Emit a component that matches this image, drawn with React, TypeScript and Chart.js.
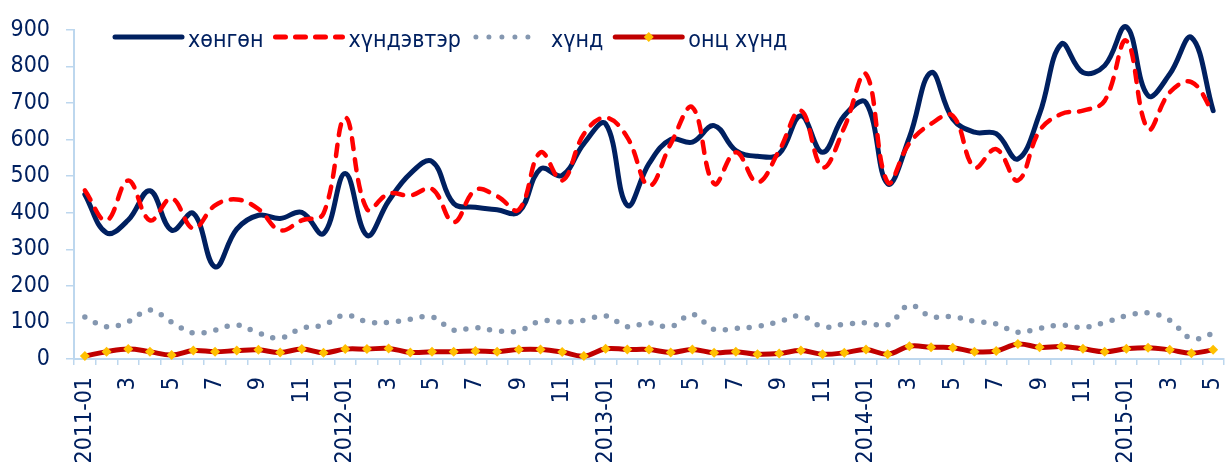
import React, { useEffect, useRef } from "react";
import { Chart, registerables } from "chart.js";

Chart.register(...registerables);

const categories: string[] = [
  "2011-01", "2", "3", "4", "5", "6", "7", "8", "9", "10", "11", "12",
  "2012-01", "2", "3", "4", "5", "6", "7", "8", "9", "10", "11", "12",
  "2013-01", "2", "3", "4", "5", "6", "7", "8", "9", "10", "11", "12",
  "2014-01", "2", "3", "4", "5", "6", "7", "8", "9", "10", "11", "12",
  "2015-01", "2", "3", "4", "5",
];

const seriesNames: string[] = ["хөнгөн", "хүндэвтэр", "хүнд", "онц хүнд"];

const light: number[] = [
  450, 345, 380, 460, 352, 398, 252, 355, 393, 384, 401, 343,
  507, 338, 432, 507, 540, 425, 415, 408, 402, 520, 502, 589,
  643, 420, 534, 600, 593, 638, 570, 554, 561, 665, 565, 665,
  701, 479, 606, 783, 656, 620, 616, 547, 670, 861, 783, 802,
  908, 720, 779, 879, 679,
];

const moderate: number[] = [
  461, 379, 488, 379, 439, 357, 420, 436, 410, 352, 379, 398,
  660, 410, 452, 447, 465, 374, 462, 445, 408, 565, 488, 615,
  660, 606, 474, 588, 688, 479, 565, 483, 570, 679, 524, 633,
  779, 483, 590, 643, 665, 524, 574, 488, 624, 670, 679, 706,
  870, 629, 729, 757, 674,
];

const severe: number[] = [
  115, 88, 102, 134, 101, 71, 79, 93, 71, 57, 84, 93,
  120, 102, 100, 109, 115, 79, 86, 77, 77, 104, 101, 106,
  118, 88, 99, 88, 122, 81, 84, 89, 102, 118, 88, 95,
  99, 93, 147, 116, 116, 103, 96, 73, 84, 93, 86, 100,
  118, 126, 106, 56, 70,
];

const extreme: number[] = [
  8, 20, 27, 20, 11, 23, 20, 23, 25, 18, 27, 17,
  27, 27, 29, 18, 20, 20, 22, 20, 26, 26, 19, 8,
  28, 26, 26, 18, 26, 17, 20, 13, 15, 23, 13, 17,
  26, 13, 35, 32, 31, 20, 22, 41, 32, 34, 28, 20,
  28, 31, 25, 16, 25,
];

const NAVY = "#002060";
const RED = "#FF0000";
const GRAY = "#8497B0";
const DARKRED = "#C00000";
const YELLOW = "#FFC000";
const AXIS = "#BDD7EE";
const FONT = '"DejaVu Sans Condensed", "DejaVu Sans", sans-serif';

const legendPlugin = {
  id: "customLegend",
  afterDraw(chart: any) {
    const ctx = chart.ctx as CanvasRenderingContext2D;
    ctx.save();
    ctx.font = `23px ${FONT}`;
    ctx.textBaseline = "alphabetic";
    const lineY = 37;
    const textY = 47;
    let x = 115;
    const lineLen = 67;
    const styles = [
      { color: NAVY, width: 5, dash: [] as number[], marker: false },
      { color: RED, width: 5, dash: [10, 10], marker: false },
      { color: GRAY, width: 5, dash: [0, 13], marker: false },
      { color: DARKRED, width: 5, dash: [] as number[], marker: true },
    ];
    seriesNames.forEach((name, i) => {
      const s = styles[i];
      ctx.beginPath();
      ctx.strokeStyle = s.color;
      ctx.lineWidth = s.width;
      ctx.lineCap = "round";
      ctx.setLineDash(s.dash);
      const x0 = i === 2 ? x + 3 : x;
      ctx.moveTo(x0, lineY);
      ctx.lineTo(x + lineLen, lineY);
      ctx.stroke();
      ctx.setLineDash([]);
      if (s.marker) {
        const cx = x + lineLen / 2;
        ctx.beginPath();
        ctx.fillStyle = YELLOW;
        ctx.moveTo(cx, lineY - 5);
        ctx.lineTo(cx + 5, lineY);
        ctx.lineTo(cx, lineY + 5);
        ctx.lineTo(cx - 5, lineY);
        ctx.closePath();
        ctx.fill();
      }
      const tx = x + lineLen + (i === 2 ? 11 : 6);
      ctx.fillStyle = NAVY;
      ctx.fillText(name, tx, textY);
      const w = ctx.measureText(name).width;
      x = tx + w + 12;
    });
    ctx.restore();
  },
};

export default function App() {
  const ref = useRef<HTMLCanvasElement | null>(null);

  useEffect(() => {
    if (!ref.current) return;
    const chart = new Chart(ref.current, {
      type: "line",
      data: {
        labels: categories,
        datasets: [
          {
            label: seriesNames[0],
            data: light,
            borderColor: NAVY,
            borderWidth: 5,
            pointRadius: 0,
            tension: 0.4,
            borderCapStyle: "round",
            borderJoinStyle: "round",
            clip: false,
            order: 4,
          },
          {
            label: seriesNames[1],
            data: moderate,
            borderColor: RED,
            borderWidth: 4.5,
            borderDash: [11, 10],
            borderCapStyle: "round",
            pointRadius: 0,
            tension: 0.4,
            clip: false,
            order: 3,
          },
          {
            label: seriesNames[2],
            data: severe,
            borderColor: GRAY,
            borderWidth: 5.5,
            borderDash: [0, 12],
            borderCapStyle: "round",
            pointRadius: 0,
            tension: 0.4,
            order: 2,
          },
          {
            label: seriesNames[3],
            data: extreme,
            borderColor: DARKRED,
            borderWidth: 5,
            pointRadius: 5,
            pointStyle: "rectRot",
            pointBackgroundColor: YELLOW,
            pointBorderColor: YELLOW,
            pointBorderWidth: 0,
            tension: 0.4,
            clip: false,
            order: 1,
          },
        ],
      },
      options: {
        responsive: false,
        animation: false,
        layout: { padding: { top: 29, left: 0, right: 0, bottom: 0 } },
        plugins: {
          legend: { display: false },
          tooltip: { enabled: false },
        },
        scales: {
          x: {
            type: "category",
            offset: true,
            afterFit: (scale: any) => {
              scale.height = 110;
              scale.paddingRight = 0;
              scale.paddingLeft = 0;
            },
            grid: {
              display: true,
              drawOnChartArea: false,
              drawTicks: true,
              tickLength: 6,
              color: AXIS,
              lineWidth: 1.5,
              offset: true,
            },
            border: { display: true, color: AXIS, width: 2 },
            ticks: {
              autoSkip: false,
              minRotation: 90,
              maxRotation: 90,
              padding: 12,
              color: NAVY,
              font: { family: FONT, size: 23 },
              callback: (_v: any, i: number) => (i % 2 === 0 ? categories[i] : ""),
            },
          },
          y: {
            min: 0,
            max: 900,
            afterFit: (scale: any) => {
              scale.width = 74;
            },
            grid: {
              display: true,
              drawOnChartArea: false,
              drawTicks: true,
              tickLength: 8,
              color: AXIS,
              lineWidth: 1.5,
            },
            border: { display: true, color: AXIS, width: 2 },
            ticks: {
              stepSize: 100,
              padding: 16,
              color: NAVY,
              font: { family: FONT, size: 23 },
            },
          },
        },
      },
      plugins: [legendPlugin],
    });
    return () => chart.destroy();
  }, []);

  return (
    <div style={{ position: "fixed", left: 0, top: 0, width: 1229, height: 469, background: "#fff" }}>
      <canvas ref={ref} width={1229} height={469} style={{ display: "block" }} />
    </div>
  );
}
